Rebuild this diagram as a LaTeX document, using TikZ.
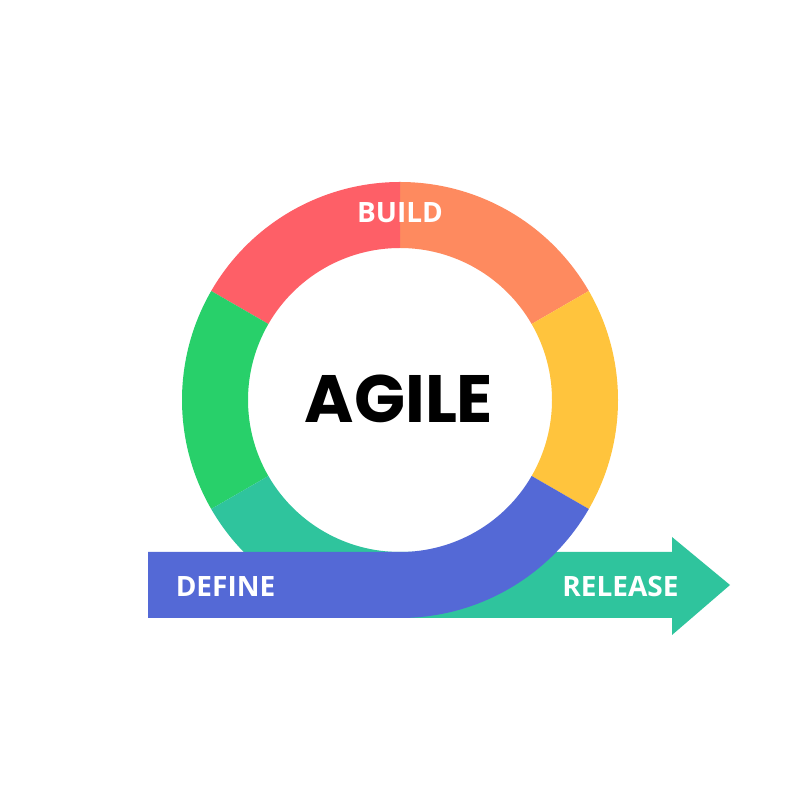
\documentclass[tikz,border=0pt]{standalone}
\usepackage{fontspec}
\setmainfont{Open Sans}
\newfontfamily\agilefont{Poppins}
\definecolor{cred}{HTML}{FE5F67}
\definecolor{corange}{HTML}{FE8A5F}
\definecolor{cyellow}{HTML}{FFC43D}
\definecolor{cgreen}{HTML}{28D06A}
\definecolor{cteal}{HTML}{2FC49D}
\definecolor{cblue}{HTML}{5469D6}
\begin{document}
\begin{tikzpicture}[x=1pt,y=1pt,
  label text/.style={text=white,font=\bfseries\fontsize{28}{28}\selectfont,inner sep=0pt},
  title text/.style={text=black,font=\agilefont\bfseries\fontsize{67}{67}\selectfont,inner sep=0pt}]
\useasboundingbox[fill=white] (0,0) rectangle (800,800);
\def\Ro{218}
\def\Ri{152}
\coordinate (c) at (400,400);
% ring segments
\foreach \a/\b/\col in {30/90/corange, 90/150/cred, 150/210/cgreen, 330/390/cyellow}{
  \fill[\col] ([shift={(\a:\Ro)}]c) arc[start angle=\a, end angle=\b, radius=\Ro]
     -- ([shift={(\b:\Ri)}]c) arc[start angle=\b, end angle=\a, radius=\Ri] -- cycle;
}
% teal segment + arrow
\fill[cteal] ([shift={(210:\Ro)}]c) arc[start angle=210, end angle=270, radius=\Ro]
   -- (672,182) -- (672,165) -- (730,215) -- (672,263) -- (672,248) -- (400,248)
   arc[start angle=270, end angle=210, radius=\Ri] -- cycle;
% blue segment + bar
\fill[cblue] ([shift={(330:\Ro)}]c) arc[start angle=330, end angle=270, radius=\Ro]
   -- (148,182) -- (148,248) -- (400,248)
   arc[start angle=270, end angle=330, radius=\Ri] -- cycle;
% texts
\node[label text] (build) at (400,587) {BUILD};
\node[label text] (define) at (225.5,213) {DEFINE};
\node[label text] (release) at (620.5,213) {RELEASE};
\node[title text] (agile) at (399,401.5) {AGILE};
\end{tikzpicture}
\end{document}
